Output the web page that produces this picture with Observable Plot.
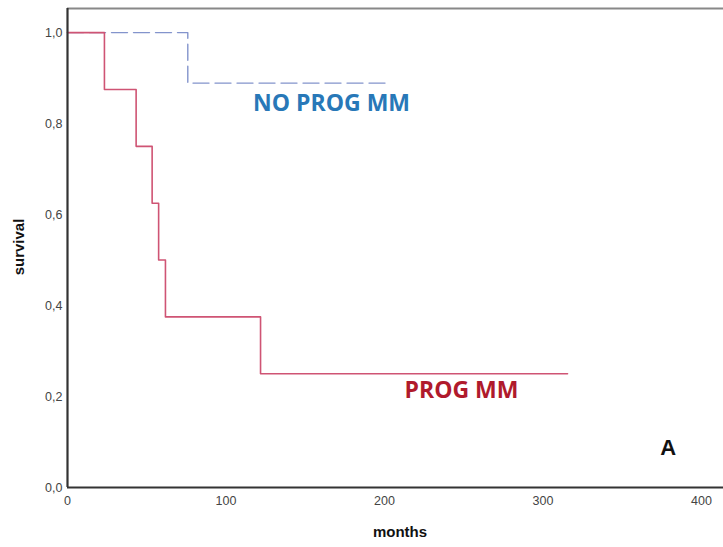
<!DOCTYPE html>
<html><head><meta charset="utf-8">
<script src="https://cdn.jsdelivr.net/npm/d3@7"></script>
<script src="https://cdn.jsdelivr.net/npm/@observablehq/plot@0.6"></script>
<style>body{margin:0;background:#fff}</style>
</head><body><div id="chart"></div>
<script>
const progTimes = [0, 23.3, 43.3, 53.4, 57.5, 61.8, 121.8, 315.5];
const progSurv  = [1, 0.875, 0.75, 0.625, 0.5, 0.375, 0.25, 0.25];
const noProgTimes = [0, 75.9, 201.6];
const noProgSurv  = [1, 0.889, 0.889];
const xTicks = [0, 100, 200, 300, 400];
const yTicks = [0, 0.2, 0.4, 0.6, 0.8, 1.0];
const labelText = ["NO PROG MM", "PROG MM"];
const labelX = [166.6, 248.6];
const labelY = [0.844, 0.213];
const panelLabel = "A";
const panelX = 379, panelY = 0.086;

const prog = progTimes.map((t,i)=>({t, s: progSurv[i]}));
const noProg = noProgTimes.map((t,i)=>({t, s: noProgSurv[i]}));
const fmt = d => d3.format(".1f")(d).replace(".", ",");
const xMax = 413.9, yMax = 1.053;

const chart = Plot.plot({
  width: 723, height: 547,
  marginLeft: 67, marginRight: 0, marginTop: 8, marginBottom: 60,
  style: {fontFamily: "Liberation Sans, Arial, sans-serif", fontSize: "12.5px", color: "#333", background: "#fff"},
  x: {domain: [0, xMax], ticks: xTicks, tickSize: 0, tickPadding: 9, label: null},
  y: {domain: [0, yMax], ticks: yTicks, tickSize: 0, tickPadding: 5, tickFormat: fmt, label: null},
  marks: [
    Plot.ruleY([yMax], {stroke: "#888", strokeWidth: 2}),
    Plot.line(noProg, {x: "t", y: "s", curve: "step-after", stroke: "#8394cc", strokeWidth: 1.4, strokeDasharray: "16,6"}),
    Plot.line(prog, {x: "t", y: "s", curve: "step-after", stroke: "#cf5474", strokeWidth: 1.6}),
    Plot.ruleX([0], {stroke: "#333", strokeWidth: 2.2}),
    Plot.ruleY([0], {stroke: "#333", strokeWidth: 2}),
    Plot.text([0], {x: labelX[0], y: labelY[0], text: [labelText[0]], fill: "#2878b8", fontWeight: "bold", fontSize: 23, fontFamily: "Open Sans"}),
    Plot.text([0], {x: labelX[1], y: labelY[1], text: [labelText[1]], fill: "#b01a2c", fontWeight: "bold", fontSize: 23, fontFamily: "Open Sans"}),
    Plot.text([0], {x: panelX, y: panelY, text: [panelLabel], fill: "#111", fontWeight: "bold", fontSize: 22, fontFamily: "Liberation Sans"})
  ]
});
const svg = d3.select(chart);
svg.selectAll("[aria-label='x-axis tick label'] text, [aria-label='y-axis tick label'] text").attr("fill", "#444");
svg.append("text").attr("x", 400).attr("y", 537).attr("text-anchor", "middle")
  .attr("font-weight", "bold").attr("font-size", 15).attr("fill", "#111").text("months");
svg.append("text").attr("transform", "translate(24,247) rotate(-90)").attr("text-anchor", "middle")
  .attr("font-weight", "bold").attr("font-size", 15).attr("fill", "#111").text("survival");
document.getElementById("chart").appendChild(chart);
</script></body></html>
